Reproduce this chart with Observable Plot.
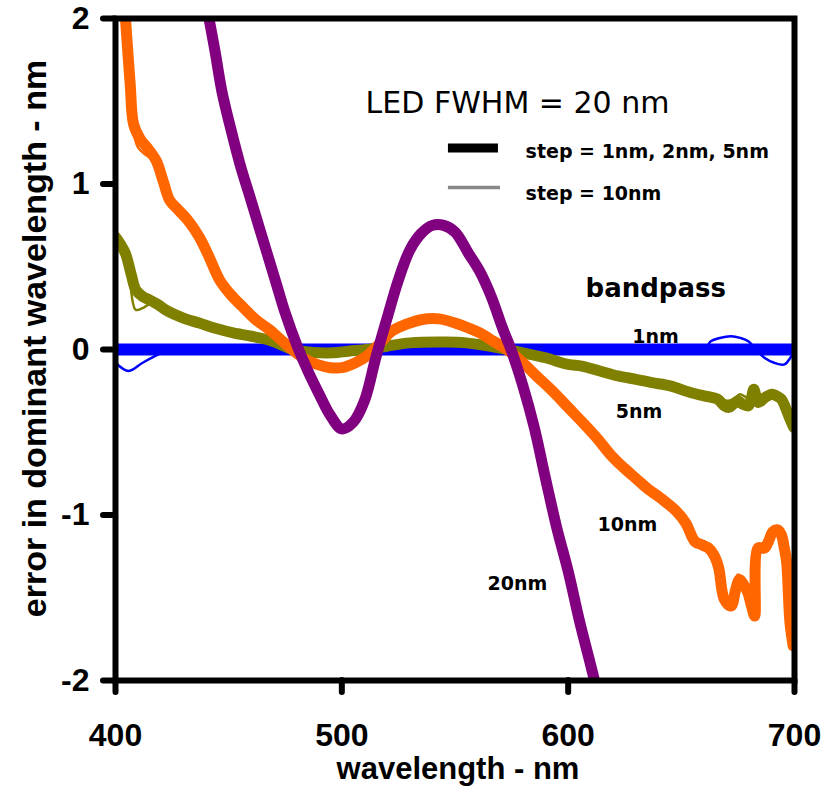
<!DOCTYPE html>
<html><head><meta charset="utf-8">
<script src="https://cdn.jsdelivr.net/npm/d3@7"></script>
<script src="https://cdn.jsdelivr.net/npm/@observablehq/plot@0.6"></script>
<style>
html,body{margin:0;padding:0;background:#fff;}
#chart svg{display:block;}
</style></head><body><div id="chart"></div>
<script>
// ---- tick values ----
const xTicks = [400, 500, 600, 700];
const yTicks = [-2, -1, 0, 1, 2];

// ---- bandpass 20nm (purple) ----
const wl20 = [441.3,444,447,451,455,459,463,467,471,475,480,485,490,495,500,505,510,515,520,525,530,535,540,545,550,556,561,566,571,575,580,585,590,595,600,605,610,612];
const err20 = [2.0,1.80,1.56,1.33,1.12,0.94,0.76,0.58,0.40,0.22,0.03,-0.13,-0.27,-0.40,-0.48,-0.44,-0.31,-0.05,0.19,0.42,0.60,0.70,0.75,0.75,0.71,0.58,0.47,0.32,0.13,-0.01,-0.22,-0.47,-0.78,-1.08,-1.34,-1.64,-1.91,-2.02];

// ---- bandpass 10nm (orange), steps 1/2/5nm ----
const wl10 = [404.4,406.5,408,411,414,418,421,424,428,432,437,441,446,451,456,462,468,473,478,484,489,495,500,506,511,517,522,528,535,543,550,556,561,567,573,580,586,593,600,607,613,619,625,630,635,642,648,652,656,659,662,664.7,666.5,669,672,674,675.7,677.5,679.4,681,682.4,683.9,686.8,688.5,690.5,692.5,694.2,695.5,696.5,698,699.4];
const err10 = [2.0,1.60,1.36,1.27,1.22,1.14,1.02,0.90,0.84,0.78,0.68,0.57,0.42,0.33,0.26,0.18,0.12,0.06,0.0,-0.06,-0.09,-0.11,-0.11,-0.08,-0.04,0.04,0.11,0.15,0.18,0.185,0.16,0.13,0.10,0.05,0.0,-0.08,-0.16,-0.25,-0.35,-0.45,-0.54,-0.64,-0.72,-0.78,-0.84,-0.91,-0.98,-1.05,-1.16,-1.18,-1.20,-1.25,-1.32,-1.51,-1.55,-1.45,-1.39,-1.42,-1.47,-1.55,-1.61,-1.20,-1.20,-1.16,-1.10,-1.09,-1.12,-1.20,-1.28,-1.65,-1.79];
// step 10nm (thin)
const wl10s = [404.6,407,408.5,410,413,418,424,432,441,451,462,473,484,495,506,517,528,543,556,567,580,593,607,619,630,642,652,659,664.7,669,672,675,678,681,682.4,684,688.5,692.5,695.5,698,699.5];
const err10s = [2.0,1.50,1.28,1.22,1.18,1.13,0.90,0.78,0.57,0.33,0.18,0.06,-0.06,-0.11,-0.08,0.04,0.15,0.185,0.13,0.05,-0.08,-0.25,-0.45,-0.64,-0.78,-0.91,-1.05,-1.18,-1.25,-1.48,-1.50,-1.36,-1.42,-1.55,-1.60,-1.22,-1.16,-1.09,-1.20,-1.62,-1.78];

// ---- bandpass 5nm (olive) ----
const wl5 = [400,402,404.4,407,409,412,415,419,422,430,437,445,452,460,467,473,478,485,490,496,503,511,520,530,546,555,565,573,580,590,600,606,614,622,630,637,645,654,660,666,669,671,673,675,677,679.6,681,682,683,684,687,690,692,694.2,696,698,699.6];
const err5 = [0.68,0.64,0.58,0.45,0.36,0.32,0.30,0.27,0.24,0.19,0.16,0.125,0.10,0.08,0.06,0.03,0.0,-0.015,-0.02,-0.02,-0.01,0.0,0.02,0.04,0.045,0.04,0.02,0.0,-0.02,-0.05,-0.09,-0.10,-0.13,-0.16,-0.18,-0.20,-0.22,-0.26,-0.28,-0.30,-0.34,-0.35,-0.33,-0.31,-0.33,-0.34,-0.29,-0.24,-0.28,-0.32,-0.29,-0.27,-0.28,-0.30,-0.35,-0.42,-0.47];
const wl5s = [400,402,404,406,408.9,412,416,422,430,445,460,478,496,511,530,546,565,580,600,622,645,660,666,670,673,676,680,684,690,694,698,700];
const err5s = [0.70,0.62,0.55,0.45,0.24,0.25,0.28,0.25,0.19,0.125,0.08,0.0,-0.02,0.0,0.04,0.045,0.02,-0.02,-0.09,-0.16,-0.22,-0.27,-0.28,-0.31,-0.30,-0.27,-0.30,-0.29,-0.26,-0.28,-0.40,-0.50];

// ---- bandpass 1nm (blue) ----
const wl1 = [400,405,410,420,440,470,500,530,560,600,640,670,700];
const err1 = [0,0,0,0,0,0,0,0,0,0,0,0,0];
const wl1s = [400,405.8,412,419,425,500,600,660,663,667,672,676,679.6,683,686.7,691,695.6,698.7,700];
const err1s = [-0.08,-0.13,-0.08,-0.03,0,0,0,0,0.05,0.07,0.08,0.07,0.05,0.0,-0.05,-0.08,-0.09,-0.04,-0.02];

const toRows = (xs, ys) => xs.map((x, i) => ({x, y: ys[i]}));

const PURPLE = "#800080", ORANGE = "#FF6600", OLIVE = "#808000", BLUE = "#0000FF";
const ANN = "'DejaVu Sans', 'Liberation Sans', sans-serif";

const line = (rows, color, w) => Plot.line(rows, {x: "x", y: "y", stroke: color, strokeWidth: w, curve: "catmull-rom", clip: true});

const chart = Plot.plot({
  width: 833,
  height: 795,
  marginLeft: 115,
  marginRight: 39,
  marginTop: 18,
  marginBottom: 115,
  style: {fontFamily: "'Liberation Sans', Arial, sans-serif", fontSize: "32px", fontWeight: "bold", background: "#fff", color: "#000", overflow: "visible"},
  x: {domain: [400, 700]},
  y: {domain: [-2, 2]},
  marks: [
    // thin (step = 10nm) lines underneath the thick (step = 1, 2, 5nm) lines
    line(toRows(wl1s, err1s), BLUE, 2.5),
    line(toRows(wl1, err1), BLUE, 12),
    line(toRows(wl5s, err5s), OLIVE, 2.5),
    line(toRows(wl5, err5), OLIVE, 11),
    line(toRows(wl10s, err10s), ORANGE, 2.5),
    line(toRows(wl10, err10), ORANGE, 11),
    line(toRows(wl20, err20), PURPLE, 11),
    Plot.frame({strokeWidth: 6, stroke: "#000"}),
    Plot.axisX({ticks: xTicks, tickSize: 12, tickPadding: 31, strokeWidth: 6, strokeLinecap: "round", label: null, tickFormat: d => String(d), fontSize: 32, fontWeight: "bold"}),
    Plot.axisY({ticks: yTicks, tickSize: 12, tickPadding: 14, strokeWidth: 6, strokeLinecap: "round", label: null, tickFormat: d => String(d), fontSize: 32, fontWeight: "bold"}),
    // axis titles
    Plot.text(["wavelength - nm"], {frameAnchor: "bottom", dx: 3, dy: 98, lineAnchor: "bottom", fontSize: 31, fontWeight: "bold"}),
    Plot.text(["error in dominant wavelength - nm"], {frameAnchor: "left", textAnchor: "middle", rotate: -90, dx: -70, dy: -11, lineAnchor: "bottom", fontSize: 34, fontWeight: "bold"}),
    // annotations
    Plot.text(["LED FWHM = 20 nm"], {x: 510.5, y: 1.432, textAnchor: "start", lineAnchor: "bottom", fontSize: 30, fontWeight: "normal", fontFamily: ANN, fill: "#000"}),
    Plot.ruleY([1.218], {x1: 547.1, x2: 569.2, stroke: "#000", strokeWidth: 9}),
    Plot.ruleY([0.979], {x1: 547.1, x2: 570.1, stroke: "#888", strokeWidth: 3.5}),
    Plot.text(["step = 1nm, 2nm, 5nm"], {x: 581.2, y: 1.160, textAnchor: "start", lineAnchor: "bottom", fontSize: 19, fontWeight: "bold", fontFamily: ANN}),
    Plot.text(["step = 10nm"], {x: 581.2, y: 0.903, textAnchor: "start", lineAnchor: "bottom", fontSize: 19, fontWeight: "bold", fontFamily: ANN}),
    Plot.text(["bandpass"], {x: 607.7, y: 0.320, textAnchor: "start", lineAnchor: "bottom", fontSize: 26, fontWeight: "bold", fontFamily: ANN}),
    Plot.text(["1nm"], {x: 638.6, y: 0.042, lineAnchor: "bottom", fontSize: 19, fontWeight: "bold", fontFamily: ANN}),
    Plot.text(["5nm"], {x: 631.3, y: -0.411, lineAnchor: "bottom", fontSize: 19, fontWeight: "bold", fontFamily: ANN}),
    Plot.text(["10nm"], {x: 626.2, y: -1.094, lineAnchor: "bottom", fontSize: 19, fontWeight: "bold", fontFamily: ANN}),
    Plot.text(["20nm"], {x: 577.6, y: -1.456, lineAnchor: "bottom", fontSize: 19, fontWeight: "bold", fontFamily: ANN})
  ]
});
document.getElementById("chart").appendChild(chart);
</script>
</body></html>
